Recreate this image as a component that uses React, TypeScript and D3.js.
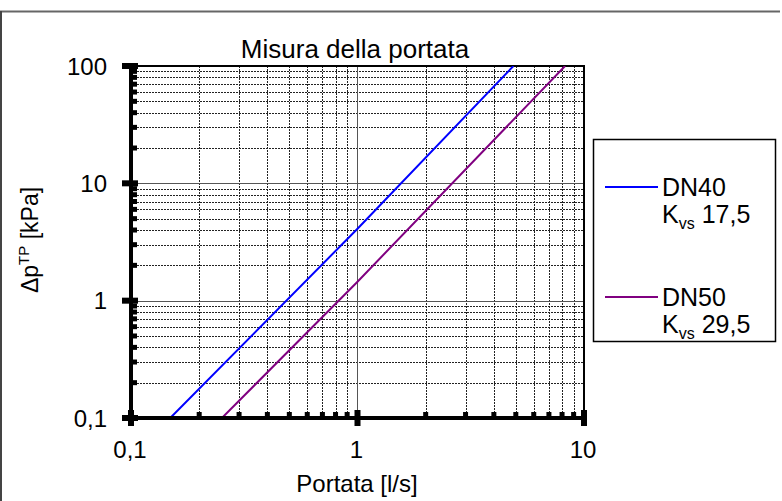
import React, { useEffect, useRef } from 'react';
import * as d3 from 'd3';

// portata [l/s] vs perdita di carico [kPa]
const dn40Flow = [0.149, 1, 4.88];
const dn40Dp = [0.1, 4.1, 100];
const dn50Flow = [0.252, 1, 8.25];
const dn50Dp = [0.1, 1.45, 100];

const seriesNames = ['DN40', 'DN50'];
const seriesKvs = ['17,5', '29,5'];
const seriesColors = ['#0000ff', '#800080'];

const xTicks = [0.1, 1, 10];
const xTickLabels = ['0,1', '1', '10'];
const yTicks = [0.1, 1, 10, 100];
const yTickLabels = ['0,1', '1', '10', '100'];

const font = 'Arial, "Liberation Sans", sans-serif';

export default function App() {
    const ref = useRef<SVGSVGElement>(null);

    useEffect(() => {
        const svg = d3.select(ref.current);
        svg.selectAll('*').remove();

        const left = 131, right = 584, top = 66, bottom = 418;

        const x = d3.scaleLog().domain([0.1, 10]).range([left, right]);
        const y = d3.scaleLog().domain([0.1, 100]).range([bottom, top]);

        // outer frame (top + left only)
        svg.append('line').attr('x1', 0).attr('x2', 780).attr('y1', 11.5).attr('y2', 11.5)
            .attr('stroke', '#666').attr('stroke-width', 2);
        svg.append('line').attr('x1', 1).attr('x2', 1).attr('y1', 11).attr('y2', 501)
            .attr('stroke', '#444').attr('stroke-width', 2);

        // minor values
        const minorX: number[] = [];
        const minorY: number[] = [];
        [0.1, 1].forEach(d => { for (let k = 2; k <= 9; k++) minorX.push(d * k); });
        [0.1, 1, 10].forEach(d => { for (let k = 2; k <= 9; k++) minorY.push(d * k); });

        const grid = svg.append('g');
        grid.selectAll('.vminor').data(minorX).enter().append('line')
            .attr('x1', d => Math.round(x(d)) + 0.5).attr('x2', d => Math.round(x(d)) + 0.5)
            .attr('y1', top).attr('y2', bottom)
            .attr('stroke', '#222').attr('stroke-width', 1).attr('stroke-dasharray', '2,1');
        grid.selectAll('.hminor').data(minorY).enter().append('line')
            .attr('y1', d => Math.round(y(d)) + 0.5).attr('y2', d => Math.round(y(d)) + 0.5)
            .attr('x1', left).attr('x2', right)
            .attr('stroke', '#222').attr('stroke-width', 1).attr('stroke-dasharray', '2,1');
        grid.selectAll('.vmajor').data(xTicks.slice(1, -1)).enter().append('line')
            .attr('x1', d => Math.round(x(d)) + 0.5).attr('x2', d => Math.round(x(d)) + 0.5)
            .attr('y1', top).attr('y2', bottom)
            .attr('stroke', '#555').attr('stroke-width', 1);
        grid.selectAll('.hmajor').data(yTicks.slice(1, -1)).enter().append('line')
            .attr('y1', d => Math.round(y(d)) + 0.5).attr('y2', d => Math.round(y(d)) + 0.5)
            .attr('x1', left).attr('x2', right)
            .attr('stroke', '#555').attr('stroke-width', 1);

        // plot border top/right
        svg.append('path')
            .attr('d', `M${left},${top}H${right}V${bottom}`)
            .attr('fill', 'none').attr('stroke', '#000').attr('stroke-width', 2);

        // series
        const series = [
            { flow: dn40Flow, dp: dn40Dp },
            { flow: dn50Flow, dp: dn50Dp },
        ];
        const line = d3.line<[number, number]>().x(d => x(d[0])).y(d => y(d[1]));
        const clip = svg.append('clipPath').attr('id', 'plotclip');
        clip.append('rect').attr('x', left).attr('y', top).attr('width', right - left).attr('height', bottom - top);
        series.forEach((s, i) => {
            const pts = s.flow.map((f, j) => [f, s.dp[j]] as [number, number]);
            svg.append('path').attr('d', line(pts))
                .attr('clip-path', 'url(#plotclip)')
                .attr('fill', 'none').attr('stroke', seriesColors[i]).attr('stroke-width', 2);
        });

        // axes lines
        svg.append('line').attr('x1', left - 2).attr('x2', right + 2).attr('y1', bottom).attr('y2', bottom)
            .attr('stroke', '#000').attr('stroke-width', 4);
        svg.append('line').attr('x1', left).attr('x2', left).attr('y1', top - 2).attr('y2', bottom + 2)
            .attr('stroke', '#000').attr('stroke-width', 4);

        // x ticks
        svg.selectAll('.xminor').data(minorX).enter().append('rect')
            .attr('x', d => x(d) - 2.5).attr('y', bottom - 6).attr('width', 5).attr('height', 6)
            .attr('fill', '#000');
        svg.selectAll('.xmajor').data(xTicks).enter().append('rect')
            .attr('x', d => x(d) - 3).attr('y', bottom - 8).attr('width', 6).attr('height', 16)
            .attr('fill', '#000');
        svg.selectAll('.xlab').data(xTicks).enter().append('text')
            .attr('x', d => x(d) - 1).attr('y', 458)
            .attr('text-anchor', 'middle').attr('font-family', font).attr('font-size', 24)
            .text((d, i) => xTickLabels[i]);

        // y ticks
        svg.selectAll('.yminor').data(minorY).enter().append('rect')
            .attr('x', left).attr('y', d => y(d) - 2.5).attr('width', 6).attr('height', 5)
            .attr('fill', '#000');
        svg.selectAll('.ymajor').data(yTicks).enter().append('rect')
            .attr('x', left - 9).attr('y', d => y(d) - 3).attr('width', 16).attr('height', 6)
            .attr('fill', '#000');
        svg.selectAll('.ylab').data(yTicks).enter().append('text')
            .attr('x', 107).attr('y', d => y(d) + 8.5)
            .attr('text-anchor', 'end').attr('font-family', font).attr('font-size', 24)
            .text((d, i) => yTickLabels[i]);

        // titles
        svg.append('text').attr('x', 355).attr('y', 58).attr('text-anchor', 'middle')
            .attr('font-family', font).attr('font-size', 26)
            .text('Misura della portata');
        svg.append('text').attr('x', 357).attr('y', 492).attr('text-anchor', 'middle')
            .attr('font-family', font).attr('font-size', 24).text('Portata [l/s]');
        const yl = svg.append('text').attr('transform', 'translate(38,240) rotate(-90)')
            .attr('text-anchor', 'middle').attr('font-family', font).attr('font-size', 23);
        yl.append('tspan').text('Δp');
        yl.append('tspan').attr('font-size', 15).attr('dy', -9).text('TP');
        yl.append('tspan').attr('dy', 9).text(' [kPa]');

        // legend
        svg.append('rect').attr('x', 593.5).attr('y', 139.5).attr('width', 182).attr('height', 202)
            .attr('fill', '#fff').attr('stroke', '#000').attr('stroke-width', 1.5);
        const legY = [187, 297];
        seriesNames.forEach((name, i) => {
            const g = svg.append('g');
            g.append('line').attr('x1', 605).attr('x2', 658).attr('y1', legY[i]).attr('y2', legY[i])
                .attr('stroke', seriesColors[i]).attr('stroke-width', 2);
            g.append('text').attr('x', 662).attr('y', legY[i] + 9).attr('font-family', font)
                .attr('font-size', 25).text(name);
            const t = g.append('text').attr('x', 662).attr('y', legY[i] + 36).attr('font-family', font)
                .attr('font-size', 25);
            t.append('tspan').text('K');
            t.append('tspan').attr('font-size', 16).attr('dy', 6).text('vs');
            t.append('tspan').attr('dy', -6).text(' ' + seriesKvs[i]);
        });
    }, []);

    return (
        <svg ref={ref} width={782} height={501}
            style={{ position: 'absolute', left: 0, top: 0, background: '#fff' }} />
    );
}
